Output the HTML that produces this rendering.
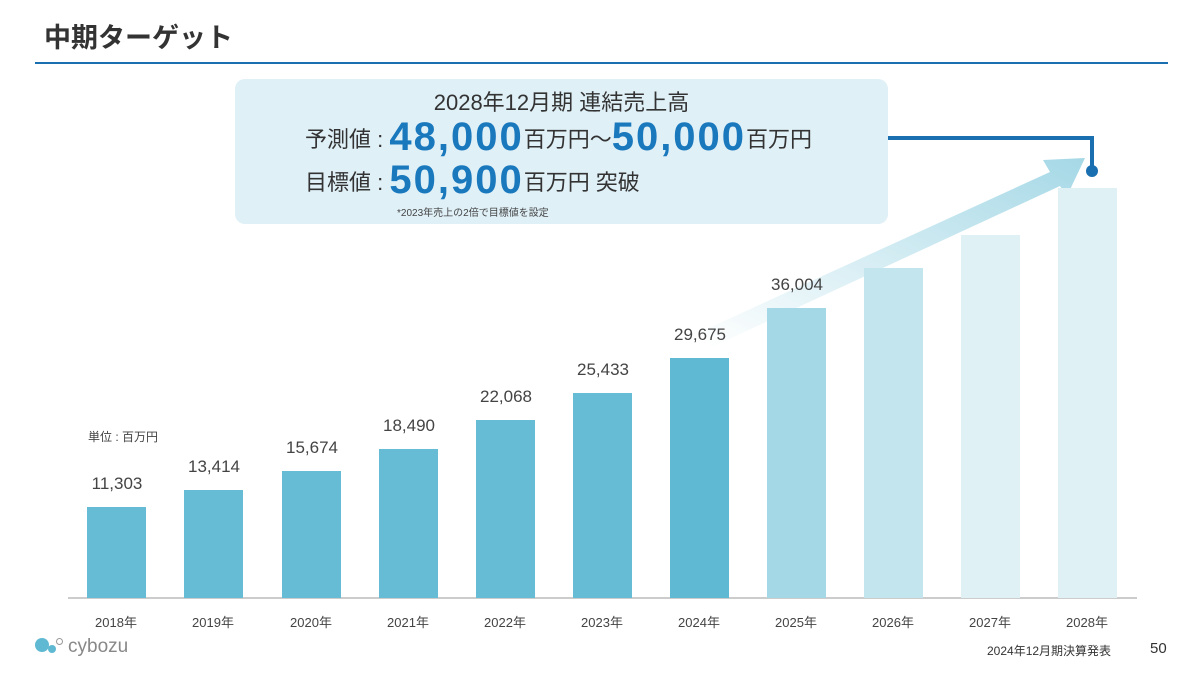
<!DOCTYPE html>
<html><head><meta charset="utf-8"><style>
body{margin:0;width:1200px;height:675px;background:#fff;position:relative;overflow:hidden;font-family:"Liberation Sans","Noto Sans CJK JP",sans-serif;color:#333}
.a{position:absolute}
.bar{position:absolute;width:59px}
.v{position:absolute;width:120px;text-align:center;font-size:17px;color:#444}
.y{position:absolute;width:100px;text-align:center;font-size:13px;color:#444;top:612px}
.big{color:#1a78bd;font-weight:bold;font-size:40px;letter-spacing:2px;vertical-align:-3px}
.ln{position:absolute;white-space:nowrap;line-height:40px;font-size:22px}
</style></head><body>
<div class="a" style="left:44px;top:16px;font-size:27px;font-weight:bold;color:#333">中期ターゲット</div>
<div class="a" style="left:35px;top:62px;width:1133px;height:2px;background:#1a6fb0"></div>
<div class="a" style="left:235px;top:79px;width:653px;height:145px;background:#dff0f7;border-radius:10px"></div>
<div class="a" style="left:235px;top:92px;width:653px;text-align:center;font-size:22px;line-height:22px;color:#333">2028年12月期 連結売上高</div>
<div class="ln" style="left:305px;top:117px">予測値 : <span class="big">48,000</span>百万円〜<span class="big">50,000</span>百万円</div>
<div class="ln" style="left:305px;top:160px">目標値 : <span class="big">50,900</span>百万円 突破</div>
<div class="a" style="left:397px;top:204px;font-size:10px;color:#444">*2023年売上の2倍で目標値を設定</div>
<svg class="a" style="left:0;top:0" width="1200" height="675">
<defs><linearGradient id="g" x1="0" y1="1" x2="1" y2="0"><stop offset="0" stop-color="#a5d8e6" stop-opacity="0"/><stop offset="1" stop-color="#a5d8e6"/></linearGradient></defs>
<polygon points="700,332 1050,172 1043,160 1085,158 1067,196 1060,186 712,347" fill="url(#g)"/>
<polyline points="888,138 1092,138 1092,168" fill="none" stroke="#1a6fb0" stroke-width="4"/>
<circle cx="1092" cy="171" r="6" fill="#1a6fb0"/>
<line x1="68" y1="598" x2="1137" y2="598" stroke="#bbb" stroke-width="1.5"/>
</svg>
<div class="a" style="left:88px;top:428px;font-size:12px;color:#444">単位 : 百万円</div>
<div class="bar" style="left:87px;top:507px;height:91px;background:#65bcd4"></div>
<div class="bar" style="left:184px;top:490px;height:108px;background:#65bcd4"></div>
<div class="bar" style="left:282px;top:471px;height:127px;background:#65bcd4"></div>
<div class="bar" style="left:379px;top:449px;height:149px;background:#65bcd4"></div>
<div class="bar" style="left:476px;top:420px;height:178px;background:#65bcd4"></div>
<div class="bar" style="left:573px;top:393px;height:205px;background:#65bcd4"></div>
<div class="bar" style="left:670px;top:358px;height:240px;background:#5fb9d2"></div>
<div class="bar" style="left:767px;top:308px;height:290px;background:#a5d8e6"></div>
<div class="bar" style="left:864px;top:268px;height:330px;background:#c3e5ee"></div>
<div class="bar" style="left:961px;top:235px;height:363px;background:#e0f1f6"></div>
<div class="bar" style="left:1058px;top:188px;height:410px;background:#e0f1f6"></div>
<div class="v" style="left:57px;top:474px">11,303</div>
<div class="v" style="left:154px;top:457px">13,414</div>
<div class="v" style="left:252px;top:438px">15,674</div>
<div class="v" style="left:349px;top:416px">18,490</div>
<div class="v" style="left:446px;top:387px">22,068</div>
<div class="v" style="left:543px;top:360px">25,433</div>
<div class="v" style="left:640px;top:325px">29,675</div>
<div class="v" style="left:737px;top:275px">36,004</div>
<div class="y" style="left:66px">2018年</div>
<div class="y" style="left:163px">2019年</div>
<div class="y" style="left:261px">2020年</div>
<div class="y" style="left:358px">2021年</div>
<div class="y" style="left:455px">2022年</div>
<div class="y" style="left:552px">2023年</div>
<div class="y" style="left:649px">2024年</div>
<div class="y" style="left:746px">2025年</div>
<div class="y" style="left:843px">2026年</div>
<div class="y" style="left:940px">2027年</div>
<div class="y" style="left:1037px">2028年</div>
<div class="a" style="left:35px;top:638px;width:14px;height:14px;border-radius:50%;background:#5fb9d2"></div>
<div class="a" style="left:48px;top:645px;width:8px;height:8px;border-radius:50%;background:#5fb9d2"></div>
<div class="a" style="left:56px;top:638px;width:5px;height:5px;border-radius:50%;border:1px solid #999"></div>
<div class="a" style="left:68px;top:636px;font-size:19px;color:#888">cybozu</div>
<div class="a" style="left:987px;top:642px;font-size:12px;color:#333">2024年12月期決算発表</div>
<div class="a" style="left:1150px;top:640px;font-size:15px;color:#333">50</div>
</body></html>
